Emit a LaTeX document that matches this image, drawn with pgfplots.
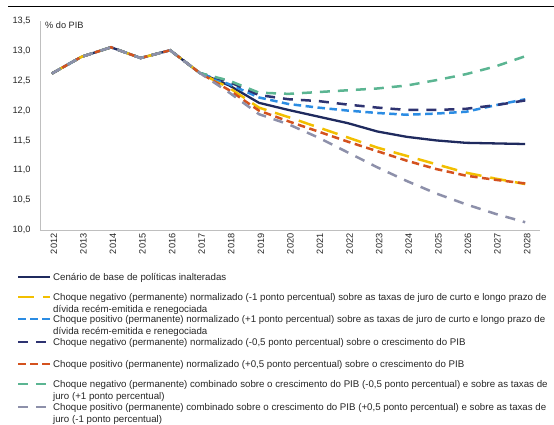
\documentclass[border=0pt]{standalone}
\usepackage{fontspec}
\setmainfont{Liberation Sans}
\usepackage{pgfplots}
\usepackage{pgfplotstable}
\pgfplotsset{compat=1.18}

\definecolor{basecol}{HTML}{1F2A5E}
\definecolor{yel}{HTML}{F2BF00}
\definecolor{blu}{HTML}{2B8CE3}
\definecolor{navd}{HTML}{2E3371}
\definecolor{org}{HTML}{D4521E}
\definecolor{grn}{HTML}{5BB592}
\definecolor{gry}{HTML}{8D90AA}
\definecolor{axgray}{HTML}{BFBFBF}
\definecolor{txt}{HTML}{262626}

% divida publica (% do PIB), cenario base e choques
\pgfplotstableread{
year  base   yneg   bpos   nneg   rpos   gneg   gpos
2012  12.62  12.62  12.62  12.62  12.62  12.62  12.62
2013  12.90  12.90  12.90  12.90  12.90  12.90  12.90
2014  13.06  13.06  13.06  13.06  13.06  13.06  13.06
2015  12.88  12.88  12.88  12.88  12.88  12.88  12.88
2016  13.01  13.01  13.01  13.01  13.01  13.01  13.01
2017  12.63  12.63  12.63  12.63  12.63  12.63  12.63
2018  12.42  12.38  12.44  12.48  12.34  12.50  12.30
2019  12.13  12.05  12.22  12.26  12.00  12.30  11.94
2020  12.01  11.89  12.11  12.19  11.82  12.28  11.77
2021  11.90  11.72  12.05  12.16  11.65  12.31  11.55
2022  11.79  11.55  12.00  12.10  11.48  12.34  11.30
2023  11.65  11.38  11.96  12.05  11.32  12.37  11.05
2024  11.56  11.24  11.93  12.01  11.16  12.42  10.82
2025  11.50  11.10  11.95  12.01  11.02  12.51  10.61
2026  11.46  10.96  11.98  12.03  10.91  12.61  10.43
2027  11.45  10.86  12.09  12.09  10.84  12.74  10.27
2028  11.44  10.77  12.19  12.17  10.78  12.91  10.13
}\debt

\tikzset{
  sbase/.style={basecol, line width=2.3pt},
  syel/.style={yel, line width=2.5pt, dash pattern=on 16pt off 9pt},
  sblu/.style={blu, line width=2.5pt, dash pattern=on 7.5pt off 4.5pt},
  snav/.style={navd, line width=2.5pt, dash pattern=on 10pt off 8pt},
  sorg/.style={org, line width=2.5pt, dash pattern=on 7.5pt off 4.5pt},
  sgrn/.style={grn, line width=2.5pt, dash pattern=on 10pt off 8pt},
  sgry/.style={gry, line width=2.5pt, dash pattern=on 10pt off 8pt},
}
\newcommand{\legfont}{\fontsize{9.7}{11}\selectfont}
\newcommand{\tickfont}{\fontsize{9.2}{10}\selectfont}
\newcommand{\legrow}[3]{%
  \draw[#1] (18pt,-#2pt) -- (50pt,-#2pt);
  \node[anchor=base west, inner sep=0pt, font=\legfont, text=txt] at (53pt,{-#2pt-3.5pt}) {#3};}
\newcommand{\legnext}[2]{%
  \node[anchor=base west, inner sep=0pt, font=\legfont, text=txt] at (53pt,{-#1pt-15.5pt}) {#2};}

\begin{document}
\begin{tikzpicture}
\path[use as bounding box] (0pt,0pt) rectangle (554pt,-424pt);
\draw[black, line width=0.9pt] (8pt,-6pt) -- (554pt,-6pt);

\begin{axis}[
  at={(40pt,-230pt)}, anchor=south west,
  scale only axis, width=500pt, height=209pt,
  xmin=2011.6, xmax=2028.5, ymin=10, ymax=13.5,
  axis lines=left,
  axis line style={-, draw=axgray, line width=0.9pt},
  major tick length=0pt,
  xtick={2012,...,2028},
  ytick={10,10.5,11,11.5,12,12.5,13,13.5},
  tick label style={font=\tickfont, text=txt},
  xticklabel style={rotate=90, anchor=east, yshift=-2pt,
    /pgf/number format/1000 sep={}, /pgf/number format/assume math mode=true},
  yticklabel style={xshift=-6pt, /pgf/number format/.cd, fixed, fixed zerofill,
    precision=1, use comma, assume math mode=true},
  clip=false,
]
\addplot[sbase] table[x=year, y=base] {\debt};
\addplot[syel]  table[x=year, y=yneg] {\debt};
\addplot[sblu]  table[x=year, y=bpos] {\debt};
\addplot[snav]  table[x=year, y=nneg] {\debt};
\addplot[sorg]  table[x=year, y=rpos] {\debt};
\addplot[sgrn]  table[x=year, y=gneg] {\debt};
\addplot[sgry]  table[x=year, y=gpos] {\debt};
\end{axis}

\node[anchor=west, inner sep=0pt, font=\tickfont, text=txt] at (45pt,-25pt) {\% do PIB};

\legrow{sbase}{277}{Cenário de base de políticas inalteradas}
\legrow{syel}{297}{Choque negativo (permanente) normalizado (-1 ponto percentual) sobre as taxas de juro de curto e longo prazo de}
\legnext{297}{dívida recém-emitida e renegociada}
\legrow{sblu}{319}{Choque positivo (permanente) normalizado (+1 ponto percentual) sobre as taxas de juro de curto e longo prazo de}
\legnext{319}{dívida recém-emitida e renegociada}
\legrow{snav}{342}{Choque negativo (permanente) normalizado (-0,5 ponto percentual) sobre o crescimento do PIB}
\legrow{sorg}{364}{Choque positivo (permanente) normalizado (+0,5 ponto percentual) sobre o crescimento do PIB}
\legrow{sgrn}{384}{Choque negativo (permanente) combinado sobre o crescimento do PIB (-0,5 ponto percentual) e sobre as taxas de}
\legnext{384}{juro (+1 ponto percentual)}
\legrow{sgry}{407}{Choque positivo (permanente) combinado sobre o crescimento do PIB (+0,5 ponto percentual) e sobre as taxas de}
\legnext{407}{juro (-1 ponto percentual)}
\end{tikzpicture}
\end{document}
